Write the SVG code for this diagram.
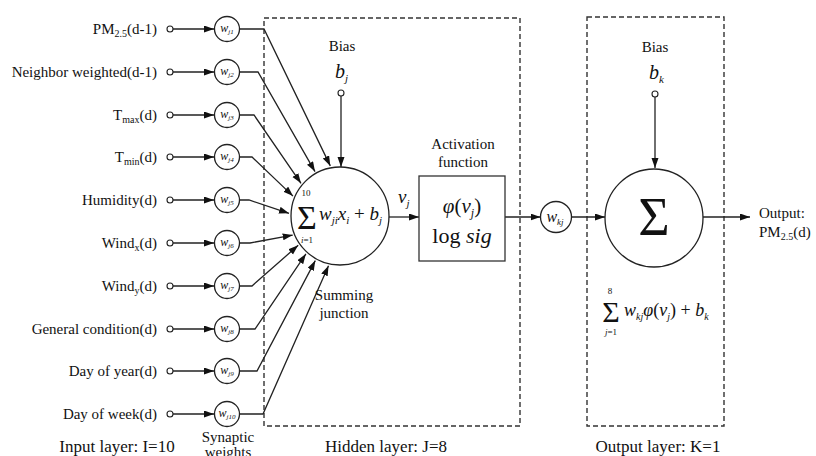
<svg xmlns="http://www.w3.org/2000/svg" width="816" height="456" viewBox="0 0 816 456" font-family="'Liberation Serif', 'Times New Roman', Times, 'DejaVu Serif', serif">
  <style>
    text { font-family: "Liberation Serif", "Times New Roman", Times, "DejaVu Serif", serif; fill: #111; }
    .lbl { font-size: 15px; text-anchor: end; }
    .cap { font-size: 15px; text-anchor: middle; }
    .big { font-size: 17px; text-anchor: middle; }
    .it { font-style: italic; }
    .ln { stroke: #222; stroke-width: 1.3; fill: none; }
    .node { stroke: #222; stroke-width: 1.3; fill: #fff; }
    .term { stroke: #222; stroke-width: 1.1; fill: #fff; }
    .box { stroke: #333; stroke-width: 1.4; fill: none; stroke-dasharray: 5 3; }
    .wt { font-size: 12px; font-style: italic; text-anchor: middle; }
  </style>
  <defs>
    <marker id="arr" markerUnits="userSpaceOnUse" markerWidth="11" markerHeight="8" refX="10" refY="3.5" orient="auto">
      <path d="M0,0 L10,3.5 L0,7 z" fill="#111"/>
    </marker>
  </defs>

  <rect width="816" height="456" fill="#fff"/>

  <!-- layer frames -->
  <rect class="box" x="264" y="18" width="256" height="408"/>
  <rect class="box" x="587" y="17" width="137" height="409"/>

  <!-- connectors -->
  <g id="connectors">
    <!-- input terminals to synaptic weights -->
    <line class="ln" x1="173" y1="29" x2="214" y2="29" marker-end="url(#arr)"/>
    <line class="ln" x1="173" y1="72" x2="214" y2="72" marker-end="url(#arr)"/>
    <line class="ln" x1="173" y1="115" x2="214" y2="115" marker-end="url(#arr)"/>
    <line class="ln" x1="173" y1="157" x2="214" y2="157" marker-end="url(#arr)"/>
    <line class="ln" x1="173" y1="200" x2="214" y2="200" marker-end="url(#arr)"/>
    <line class="ln" x1="173" y1="243" x2="214" y2="243" marker-end="url(#arr)"/>
    <line class="ln" x1="173" y1="286" x2="214" y2="286" marker-end="url(#arr)"/>
    <line class="ln" x1="173" y1="329" x2="214" y2="329" marker-end="url(#arr)"/>
    <line class="ln" x1="173" y1="371" x2="214" y2="371" marker-end="url(#arr)"/>
    <line class="ln" x1="173" y1="414" x2="214" y2="414" marker-end="url(#arr)"/>
    <!-- weights to summing junction -->
    <polyline class="ln" points="239.5,29 264,29 330.3,165.9" marker-end="url(#arr)"/>
    <polyline class="ln" points="239.5,72 258,72 315,171.6" marker-end="url(#arr)"/>
    <polyline class="ln" points="239.5,115 254,115 301,183.3" marker-end="url(#arr)"/>
    <polyline class="ln" points="239.5,157 252,157 293,196.1" marker-end="url(#arr)"/>
    <polyline class="ln" points="239.5,200 249,200 289,213.3" marker-end="url(#arr)"/>
    <polyline class="ln" points="239.5,243 250,243 292.7,235.1" marker-end="url(#arr)"/>
    <polyline class="ln" points="239.5,286 252,286 298.2,245.3" marker-end="url(#arr)"/>
    <polyline class="ln" points="239.5,329 255,329 305.9,253.9" marker-end="url(#arr)"/>
    <polyline class="ln" points="239.5,371 257,371 315.3,260.6" marker-end="url(#arr)"/>
    <polyline class="ln" points="239.5,414 263,414 328.5,265.7" marker-end="url(#arr)"/>
    <!-- biases -->
    <line class="ln" x1="341" y1="96" x2="341" y2="167" marker-end="url(#arr)"/>
    <line class="ln" x1="655" y1="97" x2="655" y2="168" marker-end="url(#arr)"/>
    <!-- forward path -->
    <line class="ln" x1="389" y1="217" x2="419" y2="217" marker-end="url(#arr)"/>
    <line class="ln" x1="505" y1="217" x2="540.5" y2="217" marker-end="url(#arr)"/>
    <line class="ln" x1="571.5" y1="217" x2="605" y2="217" marker-end="url(#arr)"/>
    <line class="ln" x1="703" y1="217" x2="750" y2="217" marker-end="url(#arr)"/>
  </g>

  <!-- input layer -->
  <g id="inputs">
    <text class="lbl" x="157" y="34">PM<tspan font-size="10" dy="3">2.5</tspan><tspan dy="-3">(d-1)</tspan></text>
    <text class="lbl" x="157" y="77">Neighbor weighted(d-1)</text>
    <text class="lbl" x="157" y="120">T<tspan font-size="10" dy="3">max</tspan><tspan dy="-3">(d)</tspan></text>
    <text class="lbl" x="157" y="162">T<tspan font-size="10" dy="3">min</tspan><tspan dy="-3">(d)</tspan></text>
    <text class="lbl" x="157" y="205">Humidity(d)</text>
    <text class="lbl" x="157" y="248">Wind<tspan font-size="10" dy="3">x</tspan><tspan dy="-3">(d)</tspan></text>
    <text class="lbl" x="157" y="291">Wind<tspan font-size="10" dy="3">y</tspan><tspan dy="-3">(d)</tspan></text>
    <text class="lbl" x="157" y="334">General condition(d)</text>
    <text class="lbl" x="157" y="376">Day of year(d)</text>
    <text class="lbl" x="157" y="419">Day of week(d)</text>
    <circle class="term" cx="170" cy="29" r="3"/>
    <circle class="term" cx="170" cy="72" r="3"/>
    <circle class="term" cx="170" cy="115" r="3"/>
    <circle class="term" cx="170" cy="157" r="3"/>
    <circle class="term" cx="170" cy="200" r="3"/>
    <circle class="term" cx="170" cy="243" r="3"/>
    <circle class="term" cx="170" cy="286" r="3"/>
    <circle class="term" cx="170" cy="329" r="3"/>
    <circle class="term" cx="170" cy="371" r="3"/>
    <circle class="term" cx="170" cy="414" r="3"/>
  </g>

  <!-- synaptic weights -->
  <g id="weights">
    <circle class="node" cx="227" cy="29" r="12.5"/>
    <circle class="node" cx="227" cy="72" r="12.5"/>
    <circle class="node" cx="227" cy="115" r="12.5"/>
    <circle class="node" cx="227" cy="157" r="12.5"/>
    <circle class="node" cx="227" cy="200" r="12.5"/>
    <circle class="node" cx="227" cy="243" r="12.5"/>
    <circle class="node" cx="227" cy="286" r="12.5"/>
    <circle class="node" cx="227" cy="329" r="12.5"/>
    <circle class="node" cx="227" cy="371" r="12.5"/>
    <circle class="node" cx="227" cy="414" r="12.5"/>
    <text class="wt" x="227" y="32">w<tspan font-size="7" dy="2">j1</tspan></text>
    <text class="wt" x="227" y="75">w<tspan font-size="7" dy="2">j2</tspan></text>
    <text class="wt" x="227" y="118">w<tspan font-size="7" dy="2">j3</tspan></text>
    <text class="wt" x="227" y="160">w<tspan font-size="7" dy="2">j4</tspan></text>
    <text class="wt" x="227" y="203">w<tspan font-size="7" dy="2">j5</tspan></text>
    <text class="wt" x="227" y="246">w<tspan font-size="7" dy="2">j6</tspan></text>
    <text class="wt" x="227" y="289">w<tspan font-size="7" dy="2">j7</tspan></text>
    <text class="wt" x="227" y="332">w<tspan font-size="7" dy="2">j8</tspan></text>
    <text class="wt" x="227" y="374">w<tspan font-size="7" dy="2">j9</tspan></text>
    <text class="wt" x="227" y="417">w<tspan font-size="7" dy="2">j10</tspan></text>
  </g>

  <!-- hidden layer: bias and summing junction -->
  <g id="hidden-bias">
    <text class="cap" x="342" y="51">Bias</text>
    <text class="it" x="335" y="78" font-size="20">b<tspan font-size="11" dy="4">j</tspan></text>
    <circle class="term" cx="341" cy="93" r="3"/>
  </g>
  <g id="summing-junction">
    <circle class="node" cx="340" cy="216" r="49"/>
    <text x="307" y="229" font-size="34" text-anchor="middle">Σ</text>
    <text x="306" y="196" font-size="9" text-anchor="middle">10</text>
    <text x="307" y="243" font-size="9" text-anchor="middle"><tspan class="it">i</tspan>=1</text>
    <text x="319" y="220" font-size="19"><tspan class="it">w</tspan><tspan class="it" font-size="11" dy="4">ji</tspan><tspan class="it" dy="-4">x</tspan><tspan class="it" font-size="11" dy="4">i</tspan><tspan dy="-4"> + </tspan><tspan class="it">b</tspan><tspan class="it" font-size="11" dy="4">j</tspan></text>
    <text class="cap" x="344" y="300">Summing</text>
    <text class="cap" x="344" y="318">junction</text>
    <text class="it" x="398" y="203" font-size="19">v<tspan font-size="11" dy="4">j</tspan></text>
  </g>

  <!-- activation function -->
  <g id="activation">
    <text class="cap" x="463" y="149">Activation</text>
    <text class="cap" x="463" y="167">function</text>
    <rect x="419" y="176" width="86" height="85" fill="#fff" stroke="#333" stroke-width="1.3"/>
    <text x="462" y="213" font-size="21" text-anchor="middle"><tspan class="it">φ</tspan>(<tspan class="it">v</tspan><tspan class="it" font-size="12" dy="4">j</tspan><tspan dy="-4">)</tspan></text>
    <text x="462" y="243" font-size="22" text-anchor="middle">log <tspan class="it">sig</tspan></text>
  </g>

  <!-- output weight -->
  <g id="output-weight">
    <circle class="node" cx="556" cy="217" r="15.5"/>
    <text x="555" y="222" font-size="16" class="it" text-anchor="middle">w<tspan font-size="9" dy="3">kj</tspan></text>
  </g>

  <!-- output layer -->
  <g id="output-bias">
    <text class="cap" x="655" y="52">Bias</text>
    <text class="it" x="649" y="79" font-size="20">b<tspan font-size="11" dy="4">k</tspan></text>
    <circle class="term" cx="655" cy="94" r="3"/>
  </g>
  <g id="output-sum">
    <circle class="node" cx="654" cy="218" r="49"/>
    <text x="654" y="235" font-size="54" text-anchor="middle">Σ</text>
    <text x="611" y="322" font-size="30" text-anchor="middle">Σ</text>
    <text x="610" y="294" font-size="9" text-anchor="middle">8</text>
    <text x="611" y="335" font-size="9" text-anchor="middle"><tspan class="it">j</tspan>=1</text>
    <text x="624" y="316" font-size="18"><tspan class="it">w</tspan><tspan class="it" font-size="10" dy="4">kj</tspan><tspan class="it" dy="-4">φ</tspan>(<tspan class="it">v</tspan><tspan class="it" font-size="10" dy="4">j</tspan><tspan dy="-4">) + </tspan><tspan class="it">b</tspan><tspan class="it" font-size="10" dy="4">k</tspan></text>
  </g>
  <g id="output">
    <text x="759" y="218" font-size="15">Output:</text>
    <text x="759" y="237" font-size="15">PM<tspan font-size="10" dy="3">2.5</tspan><tspan dy="-3">(d)</tspan></text>
  </g>

  <!-- layer captions -->
  <g id="captions">
    <text class="big" x="117" y="452">Input layer: I=10</text>
    <text class="cap" x="228" y="442">Synaptic</text>
    <text class="cap" x="228" y="457">weights</text>
    <text class="big" x="386" y="452">Hidden layer: J=8</text>
    <text class="big" x="658" y="452">Output layer: K=1</text>
  </g>
</svg>
